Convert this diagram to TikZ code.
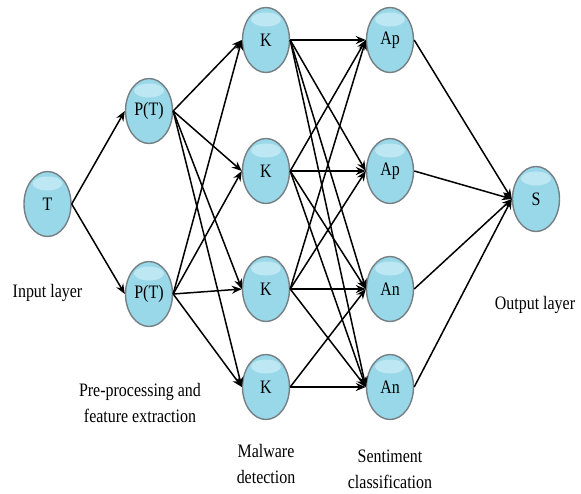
\documentclass[tikz,border=0pt]{standalone}
\usepackage{fontspec}
\usetikzlibrary{shapes.geometric,arrows.meta}
\newfontfamily\lblfont[FakeStretch=0.84]{Liberation Serif}
\definecolor{nodebase}{RGB}{152,216,232}
\definecolor{nodehi}{RGB}{205,238,247}
\definecolor{nodeedge}{RGB}{118,128,132}
\tikzset{
  neuron/.style={ellipse, minimum width=47pt, minimum height=65pt, inner sep=0pt,
    draw=nodeedge, line width=1.4pt, fill=nodebase,
    path picture={\fill[nodehi, opacity=0.7] ([yshift=-12pt]path picture bounding box.north) ellipse (15pt and 7pt);},
    font=\lblfont\fontsize{19}{22}\selectfont},
  lbl/.style={align=center, inner sep=0pt, font=\lblfont\fontsize{19}{26}\selectfont},
  conn/.style={-{Stealth[length=10pt,width=8pt]}, line width=1.5pt, black}
}
\begin{document}
\begin{tikzpicture}[x=1pt,y=-1pt]
\useasboundingbox (0,0) rectangle (581,493);
\node[neuron] (T) at (47.5,204) {T};
\node[neuron] (P1) at (149,111) {P(T)};
\node[neuron] (P2) at (149,294) {P(T)};
\node[neuron] (K1) at (266,40) {K};
\node[neuron] (K2) at (266,171) {K};
\node[neuron] (K3) at (266,289) {K};
\node[neuron] (K4) at (266,387) {K};
\node[neuron] (A1) at (390,40) {Ap};
\node[neuron] (A2) at (390,171) {Ap};
\node[neuron] (A3) at (390,289) {An};
\node[neuron] (A4) at (390,387) {An};
\node[neuron] (S) at (536,199) {S};

\node[lbl] (l1) at (47.5,293) {Input layer};
\node[lbl] (l2) at (140,403) {Pre-processing and\\feature extraction};
\node[lbl] (l3) at (266,464) {Malware\\detection};
\node[lbl] (l4) at (390,469) {Sentiment\\classification};
\node[lbl] (l5) at (535,305) {Output layer};

\foreach \b in {P1,P2} \draw[conn] (T.east) -- (\b.west);
\foreach \a in {P1,P2} \foreach \b in {K1,K2,K3,K4} \draw[conn] (\a.east) -- (\b.west);
\foreach \a in {K1,K2,K3} \foreach \b in {A1,A2,A3,A4} \draw[conn] (\a.east) -- (\b.west);
\foreach \b in {A3,A4} \draw[conn] (K4.east) -- (\b.west);
\foreach \a in {A1,A2,A3,A4} \draw[conn] (\a.east) -- (S.west);
\end{tikzpicture}
\end{document}
